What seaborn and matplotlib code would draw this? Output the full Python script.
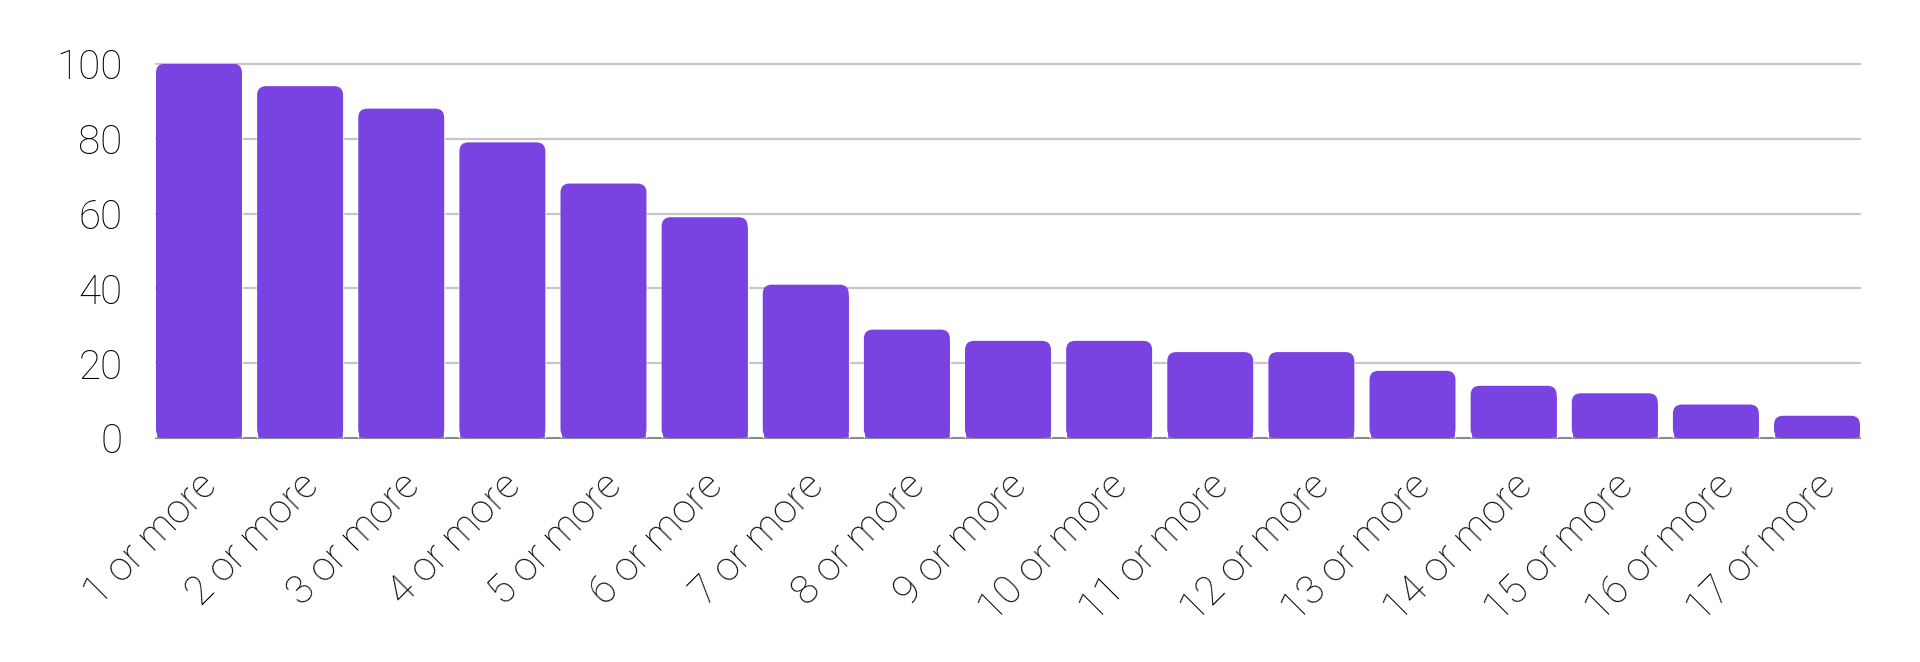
import seaborn as sns
import matplotlib.pyplot as plt
import matplotlib.transforms as mtransforms
from matplotlib.patches import FancyBboxPatch

# Chart data
categories = ["1 or more", "2 or more", "3 or more", "4 or more", "5 or more",
              "6 or more", "7 or more", "8 or more", "9 or more", "10 or more",
              "11 or more", "12 or more", "13 or more", "14 or more", "15 or more",
              "16 or more", "17 or more"]
values = [100, 94, 88, 79, 68, 59, 41, 29, 26, 26, 23, 23, 18, 14, 12, 9, 6]
yticks = [0, 20, 40, 60, 80, 100]

bar_color = "#7843E0"
bar_width = 0.85

sns.set_style("white")
plt.rcParams['font.family'] = ['Roboto', 'DejaVu Sans']
plt.rcParams['font.weight'] = 'light'

fig = plt.figure(figsize=(19.2, 6.62), dpi=100)
ax = fig.add_axes([0.08125, 0.338, 0.8875, 0.5658])

sns.barplot(x=categories, y=values, color=bar_color, saturation=1,
            width=bar_width, ax=ax, zorder=3)

# bars touch the left and right edges of the plot area
ax.set_xlim(-bar_width / 2, len(categories) - 1 + bar_width / 2)
ax.set_ylim(0, 100)
ax.set_yticks(yticks)

# rounded tops: px per data unit
bbox = ax.get_window_extent()
px_x = bbox.width / (len(categories) - 1 + bar_width)
px_y = bbox.height / 100
r_x = 9 / px_x
r_y = 9 / px_y
for p in list(ax.patches):
    x, w, h = p.get_x(), p.get_width(), p.get_height()
    rb = FancyBboxPatch((x, 0), w, h, boxstyle=f"round,pad=0,rounding_size={r_x}",
                        mutation_aspect=r_y / r_x, fc=bar_color, ec="none", zorder=3)
    ax.add_patch(rb)
    p.set_height(max(h - r_y, 0))

# grid and baseline
ax.yaxis.grid(True, color="#c6c6c6", lw=1.6, zorder=0)
for gl in ax.get_ygridlines():
    gl.set_clip_on(False)
ax.set_axisbelow(True)
ax.axhline(0, color="#8a8a8a", lw=1.4, zorder=2, clip_on=False)
sns.despine(ax=ax, left=True, bottom=True)

ax.tick_params(axis="both", length=0, labelsize=29, colors="black")
ax.tick_params(axis="y", pad=24)
ax.tick_params(axis="x", pad=30)
ax.set_xticks(range(len(categories)))
ax.set_xticklabels(categories, rotation=45, ha="right", va="center",
                   rotation_mode="anchor")
shift = mtransforms.ScaledTranslation(12 / 100, 0, fig.dpi_scale_trans)
for lab in ax.get_xticklabels():
    lab.set_transform(lab.get_transform() + shift)

ax.set_xlabel("")
ax.set_ylabel("")

fig.savefig("out.png", dpi=100, facecolor="white")
